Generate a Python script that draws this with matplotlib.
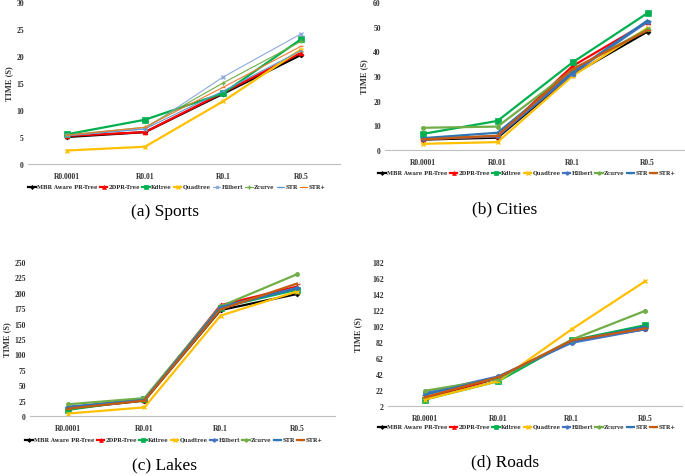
import matplotlib.pyplot as plt

categories = ['R0.0001', 'R0.01', 'R0.1', 'R0.5']
methods = ['MBR Aware PR-Tree', '2DPR-Tree', 'Kdtree', 'Quadtree',
           'Hilbert', 'Zcurve', 'STR', 'STR+']

sports = {
    'MBR Aware PR-Tree': [5.0, 5.9, 13.0, 20.2],
    '2DPR-Tree': [5.2, 5.9, 13.2, 20.6],
    'Kdtree': [5.5, 8.2, 13.1, 23.1],
    'Quadtree': [2.5, 3.2, 11.6, 21.2],
    'Hilbert': [5.3, 6.5, 16.1, 24.1],
    'Zcurve': [5.4, 6.8, 15.0, 22.7],
    'STR': [5.2, 6.5, 13.5, 21.0],
    'STR+': [5.3, 6.8, 14.2, 21.8],
}
cities = {
    'MBR Aware PR-Tree': [4.2, 5.0, 30.5, 48.0],
    '2DPR-Tree': [4.5, 5.5, 34.0, 51.8],
    'Kdtree': [6.5, 11.8, 35.5, 55.5],
    'Quadtree': [2.5, 3.2, 30.0, 49.5],
    'Hilbert': [4.5, 5.5, 31.0, 52.0],
    'Zcurve': [9.0, 9.5, 32.5, 49.0],
    'STR': [4.8, 7.0, 31.5, 52.5],
    'STR+': [4.3, 5.8, 32.8, 48.5],
}
lakes = {
    'MBR Aware PR-Tree': [12, 25, 172, 198],
    '2DPR-Tree': [14, 26, 180, 210],
    'Kdtree': [10, 27, 176, 205],
    'Quadtree': [4, 14, 163, 202],
    'Hilbert': [15, 27, 177, 208],
    'Zcurve': [19, 29, 178, 230],
    'STR': [14, 26, 177, 207],
    'STR+': [12, 25, 173, 215],
}
roads = {
    'MBR Aware PR-Tree': [12, 37, 83, 98],
    '2DPR-Tree': [12, 37, 83, 99],
    'Kdtree': [10, 33, 84, 103],
    'Quadtree': [10, 33, 98, 158],
    'Hilbert': [18, 39, 81, 98],
    'Zcurve': [21, 36, 85, 121],
    'STR': [16, 38, 83, 101],
    'STR+': [13, 38, 84, 99],
}

# styles: color, marker, linewidth, markersize
heavy = {
    'MBR Aware PR-Tree': ('black', 'D', 1.6, 2.5),
    '2DPR-Tree': ('#ff0000', '^', 1.6, 3.5),
    'Kdtree': ('#00b050', 's', 1.6, 4),
    'Quadtree': ('#ffc000', 'x', 1.6, 3),
    'Hilbert': ('#4472c4', 'o', 1.6, 3),
    'Zcurve': ('#70ad47', 'o', 1.6, 3),
    'STR': ('#2e75b6', '_', 1.6, 4),
    'STR+': ('#c55a11', '_', 1.6, 4),
}
light = dict(heavy)
light['Hilbert'] = ('#8ea9db', 'x', 0.8, 2.5)
light['Zcurve'] = ('#70ad47', '+', 0.8, 3)
light['STR'] = ('#5b9bd5', '_', 0.8, 3)
light['STR+'] = ('#ed7d31', '_', 0.8, 3)

SERIF = 'Liberation Serif'


def draw_panel(fig, rect, data, styles, yticks, ylim, caption, cap_xy, leg_xy, ylab_x):
    ax = fig.add_axes(rect)
    x = range(len(categories))
    for m in methods:
        c, mk, lw, ms = styles[m]
        ax.plot(x, data[m], color=c, marker=mk, lw=lw, ms=ms, label=m,
                mew=1.0 if mk in 'x+_' else 0.5)
    ax.set_xlim(-0.5, 3.5)
    ax.set_ylim(*ylim)
    ax.set_yticks(yticks)
    ax.set_xticks(list(x))
    ax.set_xticklabels(categories)
    for s in ['top', 'right', 'left']:
        ax.spines[s].set_visible(False)
    ax.spines['bottom'].set_color('#bfbfbf')
    ax.spines['bottom'].set_linewidth(0.8)
    ax.tick_params(axis='x', length=0, labelsize=5.5, pad=6)
    ax.tick_params(axis='y', length=0, labelsize=5.5, pad=3)
    for lab in ax.get_xticklabels() + ax.get_yticklabels():
        lab.set_fontfamily(SERIF)
        lab.set_fontweight('bold')
        lab.set_color('#303030')
    fig.text(ylab_x, rect[1] + rect[3] / 2, 'TIME (S)', rotation=90,
             ha='center', va='center', fontsize=6, fontweight='bold',
             family=SERIF, color='#303030')
    leg = fig.legend(*ax.get_legend_handles_labels(), loc='center',
                     bbox_to_anchor=leg_xy, ncol=8, frameon=False,
                     prop={'family': 'DejaVu Serif', 'weight': 'bold', 'size': 3.9},
                     handlelength=1.4, handletextpad=0.2, columnspacing=0.4,
                     labelcolor='#303030', markerscale=0.8)
    # the 'Q' tail pushes this label down a little; nudge it back up
    leg.get_texts()[3].set_y(1.5)
    fig.text(cap_xy[0], cap_xy[1], caption, ha='center', va='center',
             fontsize=12.5, family=SERIF)
    return ax


fig = plt.figure(figsize=(6.85, 4.77), dpi=100)
H = 477.0
W = 685.0

draw_panel(fig, [28 / W, 1 - 165 / H, 312 / W, 162 / H], sports, light,
           range(0, 31, 5), (0, 30), '(a) Sports', (165 / W, 1 - 212 / H),
           (177 / W, 1 - 188 / H), 9 / W)
draw_panel(fig, [385 / W, 1 - 151 / H, 300 / W, 148 / H], cities, heavy,
           range(0, 61, 10), (0, 60), '(b) Cities', (505 / W, 1 - 209 / H),
           (527 / W, 1 - 174 / H), 364 / W)
draw_panel(fig, [30 / W, 1 - 417 / H, 305 / W, 154 / H], lakes, heavy,
           range(0, 251, 25), (0, 250), '(c) Lakes', (165 / W, 1 - 465 / H),
           (174 / W, 1 - 441 / H), 7 / W)
draw_panel(fig, [388 / W, 1 - 407 / H, 294 / W, 144 / H], roads, heavy,
           range(2, 183, 20), (2, 182), '(d) Roads', (505 / W, 1 - 462 / H),
           (527 / W, 1 - 428 / H), 358 / W)

fig.savefig('out.png', dpi=100)
